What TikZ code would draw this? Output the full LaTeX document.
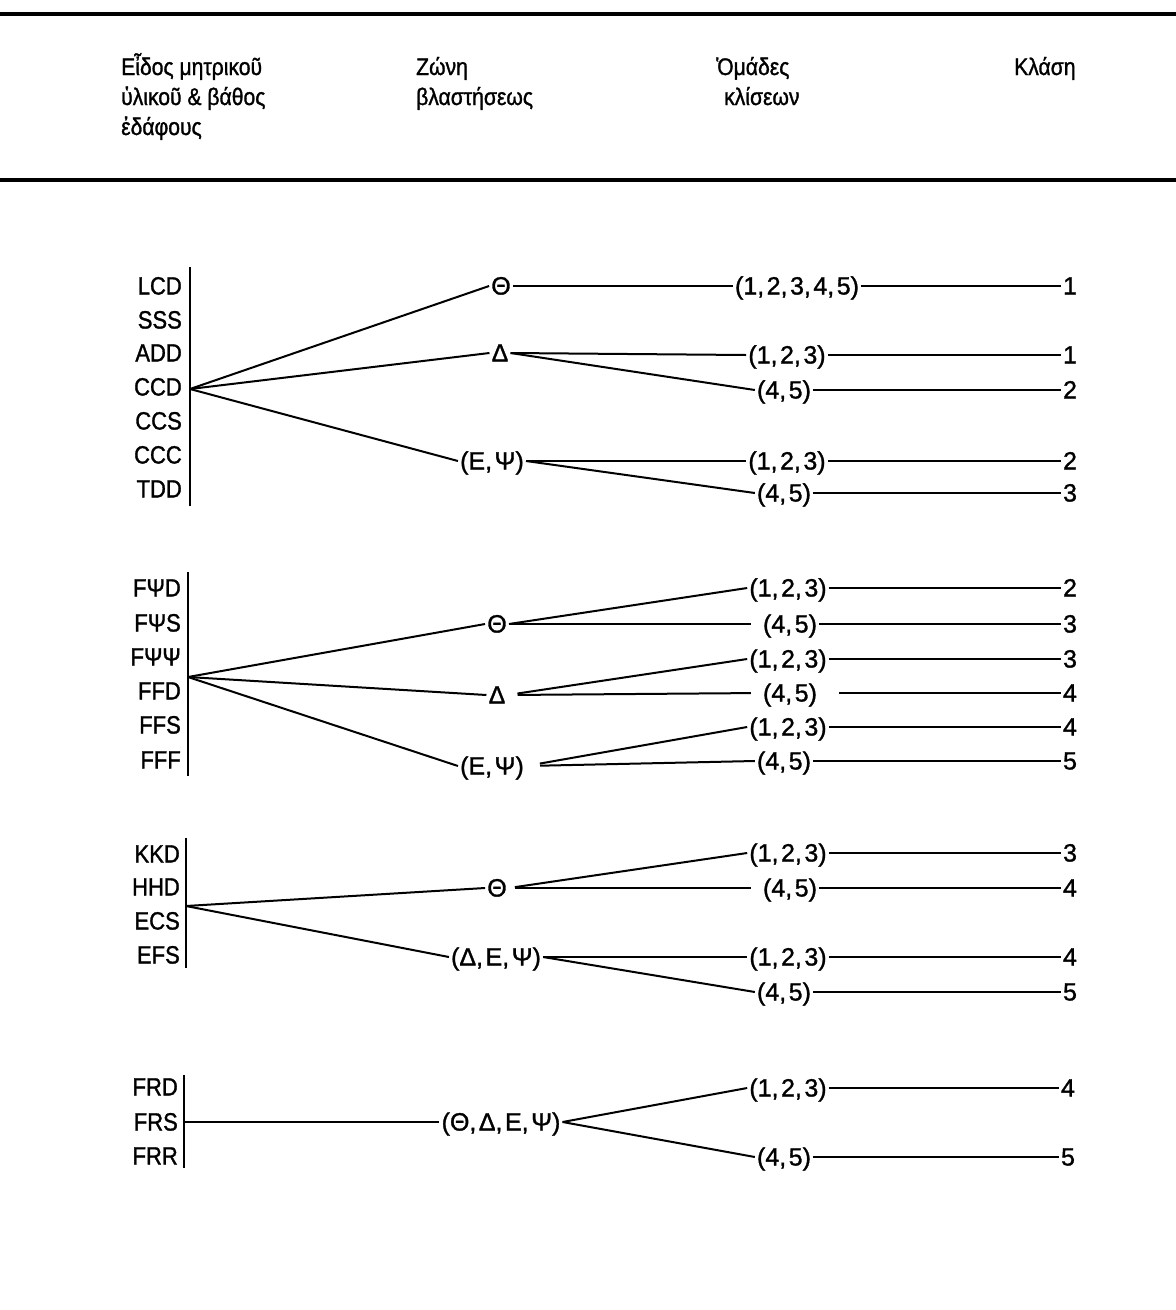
\documentclass[tikz,border=0pt]{standalone}
\usepackage{fontspec}
\setmainfont[FakeStretch=0.88,FakeBold=1.2]{Liberation Sans}
\newfontfamily\grpfont[FakeBold=1.2]{Liberation Sans}
% comma with the wider spacing used in the number groups
\newcommand\cm{,\kern2.5pt}
\begin{document}
\begin{tikzpicture}[x=1pt,y=-1pt,
  txt/.style={font=\grpfont\fontsize{25}{30}\selectfont, text height=17pt, text depth=0pt,
              inner xsep=2pt, inner ysep=0pt},
  lbl/.style={font=\fontsize{25}{30}\selectfont, text height=17pt, text depth=0pt,
              anchor=east, inner sep=0pt},
  hdr/.style={font=\fontsize{24}{30}\selectfont, anchor=base west, inner sep=0pt},
  ln/.style={line width=2pt},
  rule/.style={line width=3.6pt},
  barline/.style={line width=2.6pt}]
\useasboundingbox (0,0) rectangle (1176,1310);

% header rules
\coordinate (r1a) at (0,14);  \coordinate (r1b) at (1176,14);
\coordinate (r2a) at (0,180); \coordinate (r2b) at (1176,180);
\draw[rule] (r1a) -- (r1b);
\draw[rule] (r2a) -- (r2b);

% column headings
\node[hdr] (h1a) at (121,75)  {Εἶδος μητρικοῦ};
\node[hdr] (h1b) at (121,105) {ὑλικοῦ \& βάθος};
\node[hdr] (h1c) at (121,135) {ἐδάφους};
\node[hdr] (h2a) at (416,75)  {Ζώνη};
\node[hdr] (h2b) at (416,105) {βλαστήσεως};
\node[hdr] (h3a) at (716,75)  {Ὁμάδες};
\node[hdr] (h3b) at (724,105) {κλίσεων};
\node[hdr] (h4a) at (1014,75) {Κλάση};

% ---------- group 1 ----------
\foreach \t/\y [count=\i] in {LCD/286,SSS/320,ADD/353,CCD/387,CCS/421,CCC/455,TDD/489}
  \node[lbl] (p1\i) at (182,\y) {\t};
\coordinate (b1t) at (190,267); \coordinate (b1b) at (190,506);
\draw[barline] (b1t) -- (b1b);
\coordinate (f1) at (190,389);

\node[txt] (z1a) at (501,286) {Θ};
\node[txt] (z1b) at (500,353) {Δ};
\node[txt] (z1c) at (492,461) {(Ε\cm Ψ)};

\node[txt] (g1a) at (797,286) {(1\cm 2\cm 3\cm 4\cm 5)};
\node[txt] (g1b) at (787,355) {(1\cm 2\cm 3)};
\node[txt] (g1c) at (784,390) {(4\cm 5)};
\node[txt] (g1d) at (787,461) {(1\cm 2\cm 3)};
\node[txt] (g1e) at (784,493) {(4\cm 5)};

\node[txt] (k1a) at (1070,286) {1};
\node[txt] (k1b) at (1070,355) {1};
\node[txt] (k1c) at (1070,390) {2};
\node[txt] (k1d) at (1070,461) {2};
\node[txt] (k1e) at (1070,493) {3};

\draw[ln] (f1) -- (z1a.west);
\draw[ln] (f1) -- (z1b.west);
\draw[ln] (f1) -- (z1c.west);
\draw[ln] (z1a.east) -- (g1a.west);
\draw[ln] (z1b.east) -- (g1b.west);
\draw[ln] (z1b.east) -- (g1c.west);
\draw[ln] (z1c.east) -- (g1d.west);
\draw[ln] (z1c.east) -- (g1e.west);
\foreach \g/\k in {g1a/k1a,g1b/k1b,g1c/k1c,g1d/k1d,g1e/k1e}
  \draw[ln] (\g.east) -- (\k.west);

% ---------- group 2 ----------
\foreach \t/\y [count=\i] in {FΨD/588,FΨS/623,FΨΨ/657,FFD/691,FFS/725,FFF/760}
  \node[lbl] (p2\i) at (181,\y) {\t};
\coordinate (b2t) at (188,572); \coordinate (b2b) at (188,776);
\draw[barline] (b2t) -- (b2b);
\coordinate (f2) at (188,677);

\node[txt] (z2a) at (497,624) {Θ};
\node[txt] (z2b) at (497,695) {Δ};
\node[txt] (z2c) at (492,766) {(Ε\cm Ψ)};

\node[txt] (g2a) at (788,588) {(1\cm 2\cm 3)};
\node[txt] (g2b) at (790,624) {(4\cm 5)};
\node[txt] (g2c) at (788,659) {(1\cm 2\cm 3)};
\node[txt] (g2d) at (790,693) {(4\cm 5)};
\node[txt] (g2e) at (788,727) {(1\cm 2\cm 3)};
\node[txt] (g2f) at (784,761) {(4\cm 5)};

\node[txt] (k2a) at (1070,588) {2};
\node[txt] (k2b) at (1070,624) {3};
\node[txt] (k2c) at (1070,659) {3};
\node[txt] (k2d) at (1070,693) {4};
\node[txt] (k2e) at (1070,727) {4};
\node[txt] (k2f) at (1070,761) {5};

\draw[ln] (f2) -- (z2a.west);
\draw[ln] (f2) -- (z2b.west);
\draw[ln] (f2) -- (z2c.west);
\draw[ln] (z2a.east) -- (g2a.west);
\draw[ln, shorten >=10pt] (z2a.east) -- (g2b.west);
\draw[ln, shorten <=10pt] (z2b.east) -- (g2c.west);
\draw[ln, shorten <=10pt, shorten >=10pt] (z2b.east) -- (g2d.west);
\draw[ln, shorten <=14pt] (z2c.east) -- (g2e.west);
\draw[ln, shorten <=14pt] (z2c.east) -- (g2f.west);
\draw[ln] (g2a.east) -- (k2a.west);
\draw[ln] (g2b.east) -- (k2b.west);
\draw[ln] (g2c.east) -- (k2c.west);
\draw[ln, shorten <=20pt] (g2d.east) -- (k2d.west);
\draw[ln] (g2e.east) -- (k2e.west);
\draw[ln] (g2f.east) -- (k2f.west);

% ---------- group 3 ----------
\foreach \t/\y [count=\i] in {KKD/854,HHD/887,ECS/921,EFS/955}
  \node[lbl] (p3\i) at (180,\y) {\t};
\coordinate (b3t) at (186,838); \coordinate (b3b) at (186,968);
\draw[barline] (b3t) -- (b3b);
\coordinate (f3) at (186,906);

\node[txt] (z3a) at (497,888) {Θ};
\node[txt] (z3b) at (496,957) {(Δ\cm Ε\cm Ψ)};

\node[txt] (g3a) at (788,853) {(1\cm 2\cm 3)};
\node[txt] (g3b) at (790,888) {(4\cm 5)};
\node[txt] (g3c) at (788,957) {(1\cm 2\cm 3)};
\node[txt] (g3d) at (784,992) {(4\cm 5)};

\node[txt] (k3a) at (1070,853) {3};
\node[txt] (k3b) at (1070,888) {4};
\node[txt] (k3c) at (1070,957) {4};
\node[txt] (k3d) at (1070,992) {5};

\draw[ln] (f3) -- (z3a.west);
\draw[ln] (f3) -- (z3b.west);
\draw[ln, shorten <=6pt] (z3a.east) -- (g3a.west);
\draw[ln, shorten <=6pt, shorten >=10pt] (z3a.east) -- (g3b.west);
\draw[ln] (z3b.east) -- (g3c.west);
\draw[ln] (z3b.east) -- (g3d.west);
\foreach \g/\k in {g3a/k3a,g3b/k3b,g3c/k3c,g3d/k3d}
  \draw[ln] (\g.east) -- (\k.west);

% ---------- group 4 ----------
\foreach \t/\y [count=\i] in {FRD/1087,FRS/1122,FRR/1156}
  \node[lbl] (p4\i) at (178,\y) {\t};
\coordinate (b4t) at (184,1075); \coordinate (b4b) at (184,1168);
\draw[barline] (b4t) -- (b4b);
\coordinate (f4) at (184,1122);

\node[txt] (z4a) at (501,1122) {(Θ\cm Δ\cm Ε\cm Ψ)};

\node[txt] (g4a) at (788,1088) {(1\cm 2\cm 3)};
\node[txt] (g4b) at (784,1157) {(4\cm 5)};

\node[txt] (k4a) at (1068,1088) {4};
\node[txt] (k4b) at (1068,1157) {5};

\draw[ln] (f4) -- (z4a.west);
\draw[ln] (z4a.east) -- (g4a.west);
\draw[ln] (z4a.east) -- (g4b.west);
\draw[ln] (g4a.east) -- (k4a.west);
\draw[ln] (g4b.east) -- (k4b.west);
\end{tikzpicture}
\end{document}
